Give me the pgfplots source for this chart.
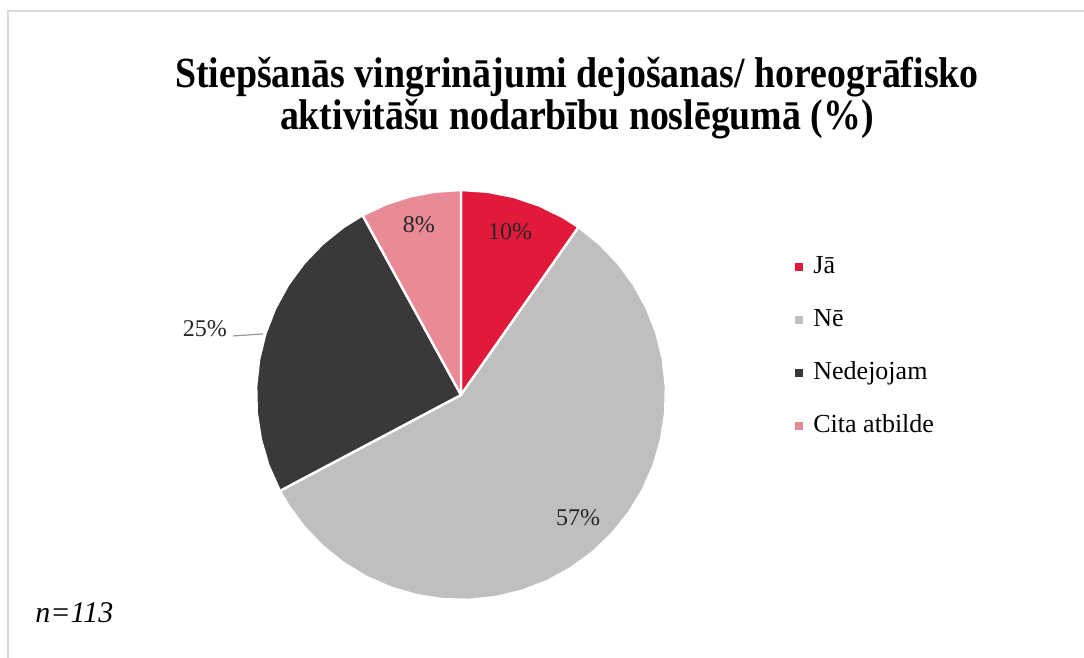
\documentclass[border=0pt]{standalone}
\usepackage{fontspec}
\setmainfont{Liberation Serif}
\newfontfamily\titlefont[FakeStretch=0.88]{Liberation Serif}
\usepackage{pgfplots}
\pgfplotsset{compat=1.18}
\definecolor{cJa}{HTML}{E11A3B}
\definecolor{cNe}{HTML}{BFBFBF}
\definecolor{cNed}{HTML}{3A3838}
\definecolor{cCita}{HTML}{E98A97}
\definecolor{cFrame}{HTML}{D9D9D9}
\tikzset{
  wedge/.style={draw=white,line width=1.2bp,line join=round},
  plbl/.style={font=\fontsize{12bp}{14bp}\selectfont,text=black!85,inner sep=0pt}}

\begin{document}
\begin{tikzpicture}
\path[use as bounding box] (0,0) rectangle (542bp,-329bp);
\draw[cFrame,line width=1bp] (4bp,-330bp) -- (4bp,-5.5bp) -- (543bp,-5.5bp);

\node[anchor=base,font=\titlefont\bfseries\fontsize{21.5bp}{24bp}\selectfont]
  at (288.5bp,-43.5bp) {Stiepšanās vingrinājumi dejošanas/ horeogrāfisko};
\node[anchor=base,font=\titlefont\bfseries\fontsize{21.5bp}{24bp}\selectfont]
  at (288.5bp,-64.8bp) {aktivitāšu nodarbību noslēgumā (\%)};
\node[anchor=base west,inner sep=0pt,font=\itshape\fontsize{15bp}{17bp}\selectfont]
  at (17.5bp,-311bp) {n=113};

\begin{axis}[at={(230.5bp,-197.5bp)},anchor=origin,
    scale only axis,width=205bp,height=205bp,
    xmin=-1,xmax=1,ymin=-1,ymax=1,hide axis,clip=false,
    legend cell align=left,
    legend image code/.code={\fill[#1,draw=none] (0bp,-2bp) rectangle (4bp,2bp);},
    legend style={at={(1.3146,0.8415)},anchor=north west,draw=none,fill=none,
      inner sep=0pt,row sep=14.5bp,
      font=\fontsize{13bp}{15bp}\selectfont,
      nodes={inner sep=0pt,text height=9bp,text depth=3bp},
      /tikz/every odd column/.append style={column sep=5bp}}]
% slices as (angle, radius), clockwise from the top
\addplot[data cs=polar,fill=cJa,wedge] coordinates {
  (0,0) (90,1) (82.5,1) (75,1) (67.5,1) (60,1) (55,1)} -- cycle;
\addlegendentry{Jā}
\addplot[data cs=polar,fill=cNe,wedge] coordinates {
  (0,0) (55,1) (47.5,1) (40,1) (32.5,1) (25,1) (17.5,1) (10,1) (2.5,1)
  (-5,1) (-12.5,1) (-20,1) (-27.5,1) (-35,1) (-42.5,1) (-50,1) (-57.5,1)
  (-65,1) (-72.5,1) (-80,1) (-87.5,1) (-95,1) (-102.5,1) (-110,1)
  (-117.5,1) (-125,1) (-132.5,1) (-140,1) (-147.5,1) (-152.1,1)} -- cycle;
\addlegendentry{Nē}
\addplot[data cs=polar,fill=cNed,wedge] coordinates {
  (0,0) (-152.1,1) (-160,1) (-167.5,1) (-175,1) (-182.5,1) (-190,1)
  (-197.5,1) (-205,1) (-212.5,1) (-220,1) (-227.5,1) (-235,1) (-241.3,1)} -- cycle;
\addlegendentry{Nedejojam}
\addplot[data cs=polar,fill=cCita,wedge] coordinates {
  (0,0) (-241.3,1) (-248.5,1) (-255.5,1) (-262.5,1) (-270,1)} -- cycle;
\addlegendentry{Cita atbilde}

\node[plbl] at (axis cs:0.239,0.795) {10\%};
\node[plbl] at (axis cs:0.571,-0.600) {57\%};
\node[plbl] at (axis cs:-1.249,0.322) {25\%};
\node[plbl] at (axis cs:-0.205,0.829) {8\%};
\draw[black!40,line width=0.6bp] (axis cs:-1.112,0.288) -- (axis cs:-0.966,0.298);
\end{axis}
\end{tikzpicture}
\end{document}
